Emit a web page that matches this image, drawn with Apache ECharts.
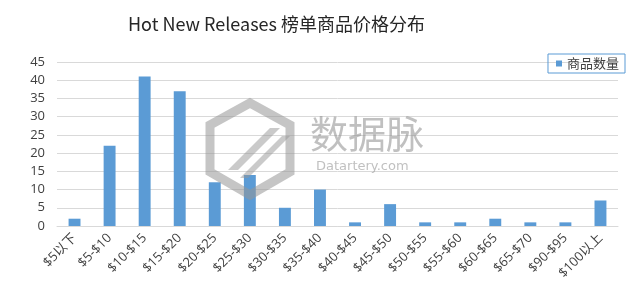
<!DOCTYPE html>
<html><head><meta charset="utf-8">
<script src="https://cdn.jsdelivr.net/npm/echarts@6/dist/echarts.min.js"></script>
<style>html,body{margin:0;padding:0;background:#fff}#c{width:640px;height:296px}</style>
</head><body><div id="c"></div>
<script>
var categories = ['$5以下','$5-$10','$10-$15','$15-$20','$20-$25','$25-$30','$30-$35','$35-$40','$40-$45','$45-$50','$50-$55','$55-$60','$60-$65','$65-$70','$90-$95','$100以上'];
var counts = [2,22,41,37,12,14,5,10,1,6,1,1,2,1,1,7];
var yTicks = [0,5,10,15,20,25,30,35,40,45];
var seriesName = '商品数量';
var titleText = 'Hot New Releases 榜单商品价格分布';

var chart = echarts.init(document.getElementById('c'), null, {renderer:'canvas'});
var font = '"Open Sans","Noto Sans CJK SC",sans-serif';
chart.setOption({
  animation:false,
  title:{text:titleText,left:123,top:10,textStyle:{fontFamily:'"Noto Sans CJK SC","Open Sans",sans-serif',fontSize:18,fontWeight:'normal',color:'#262626'}},
  legend:{data:[seriesName],right:15,top:54,itemWidth:6,itemHeight:6,itemGap:4,padding:[3,6,3,8],borderColor:'#5b9bd5',borderWidth:1,textStyle:{fontFamily:'"Noto Sans CJK SC",sans-serif',fontSize:13,color:'#404040'},icon:'rect'},
  grid:{left:57,right:22,top:62,bottom:70},
  xAxis:{type:'category',data:categories,axisTick:{show:false},axisLine:{lineStyle:{color:'#d9d9d9'}},
    axisLabel:{rotate:45,interval:0,fontFamily:font,fontSize:13,color:'#404040',margin:10}},
  yAxis:{type:'value',min:yTicks[0],max:yTicks[yTicks.length-1],interval:5,axisLine:{show:false},axisTick:{show:false},
    splitLine:{lineStyle:{color:'#d9d9d9'}},axisLabel:{fontFamily:font,fontSize:13,color:'#404040',margin:12}},
  series:[{name:seriesName,type:'bar',data:counts,barWidth:'34%',itemStyle:{color:'#5b9bd5'}}],
  graphic:[
    {type:'polygon',z:100,shape:{points:[[250,103],[290,125],[290,172],[250,195],[210,172],[210,125]]},style:{fill:null,stroke:'rgba(150,150,150,0.55)',lineWidth:9}},
    {type:'polygon',z:100,shape:{points:[[228,170],[270,128],[280,128],[238,170]]},style:{fill:'rgba(150,150,150,0.5)'}},
    {type:'polygon',z:100,shape:{points:[[240,178],[282,136],[290,136],[248,178]]},style:{fill:'rgba(150,150,150,0.5)'}},
    {type:'text',z:100,left:310,top:115,style:{text:'数据脉',fontFamily:'"Noto Sans CJK SC",sans-serif',fontSize:38,fill:'rgba(140,140,140,0.55)'}},
    {type:'text',z:100,left:316,top:160,style:{text:'Datartery.com',fontFamily:'"DejaVu Sans",sans-serif',fontSize:13,fill:'rgba(140,140,140,0.55)'}}
  ]
});
</script></body></html>
